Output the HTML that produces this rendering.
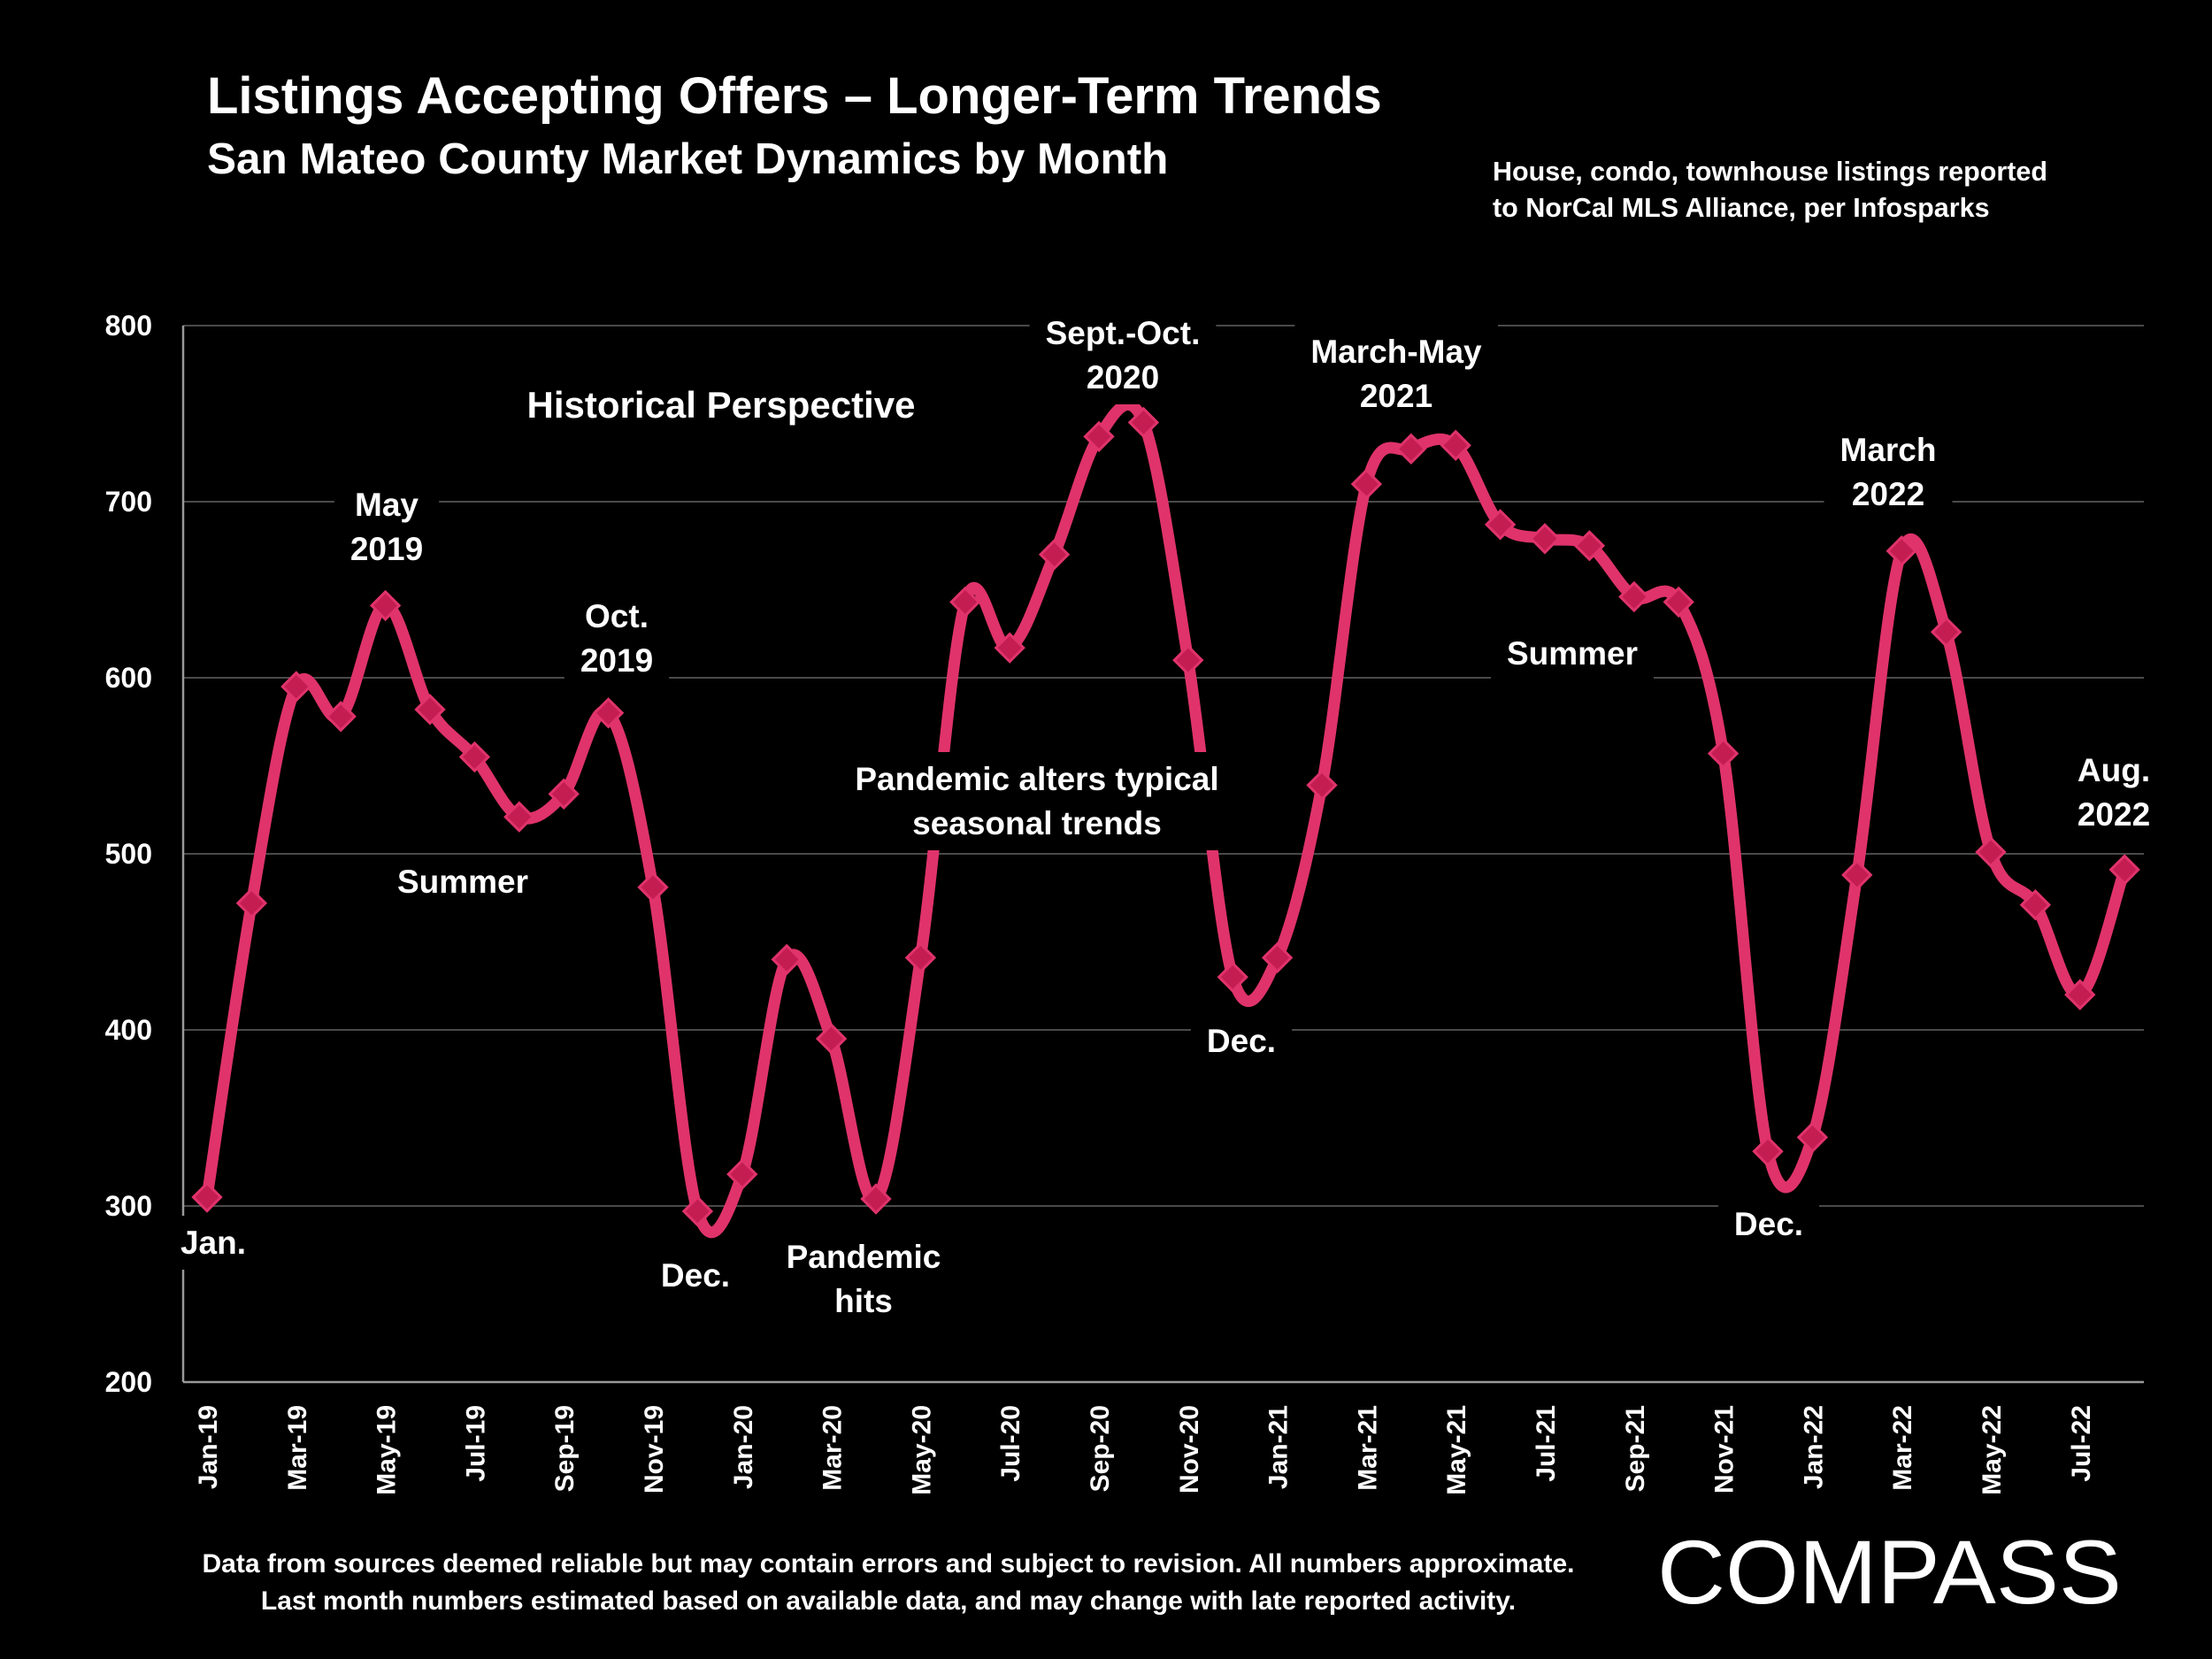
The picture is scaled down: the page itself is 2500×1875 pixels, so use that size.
<!DOCTYPE html>
<html><head><meta charset="utf-8">
<style>
html,body{margin:0;padding:0;background:#000;}
svg{display:block;font-family:"Liberation Sans",sans-serif;}
</style></head>
<body>
<svg id="chart" width="2500" height="1875" viewBox="0 0 2500 1875" xmlns="http://www.w3.org/2000/svg">
<rect width="2500" height="1875" fill="#000"/>
<text x="234" y="128" fill="#fff" font-size="58" font-weight="bold">Listings Accepting Offers – Longer-Term Trends</text>
<text x="234" y="196" fill="#fff" font-size="49.5" font-weight="bold">San Mateo County Market Dynamics by Month</text>
<text fill="#fff" font-size="30.5" font-weight="bold"><tspan x="1687" y="204">House, condo, townhouse listings reported</tspan><tspan x="1687" y="245">to NorCal MLS Alliance, per Infosparks</tspan></text>
<g id="grid"></g>
<g id="yticks"></g>
<g id="xticks"></g>
<g id="series"></g>
<g id="annots"></g>
<text fill="#fff" font-size="30" font-weight="bold" text-anchor="middle"><tspan x="1004" y="1777">Data from sources deemed reliable but may contain errors and subject to revision. All numbers approximate.</tspan><tspan x="1004" y="1819">Last month numbers estimated based on available data, and may change with late reported activity.</tspan></text>
<text x="1873" y="1812" fill="#fff" font-size="102" textLength="525" lengthAdjust="spacingAndGlyphs">COMPASS</text>
</svg>
<script>
const months = ["Jan-19","Feb-19","Mar-19","Apr-19","May-19","Jun-19","Jul-19","Aug-19","Sep-19","Oct-19","Nov-19","Dec-19",
"Jan-20","Feb-20","Mar-20","Apr-20","May-20","Jun-20","Jul-20","Aug-20","Sep-20","Oct-20","Nov-20","Dec-20",
"Jan-21","Feb-21","Mar-21","Apr-21","May-21","Jun-21","Jul-21","Aug-21","Sep-21","Oct-21","Nov-21","Dec-21",
"Jan-22","Feb-22","Mar-22","Apr-22","May-22","Jun-22","Jul-22","Aug-22"];
const values = [305,472,595,578,641,582,555,521,534,580,481,297,
318,440,395,304,441,643,617,670,737,745,610,430,
441,539,710,730,732,687,679,675,646,643,557,331,
339,488,672,626,501,471,420,491];
const yTicks = [200,300,400,500,600,700,800];
const annotations = [
 {lines:["Historical Perspective"], x:815, y:472, fs:42},
 {lines:["May","2019"], x:437, y:583},
 {lines:["Oct.","2019"], x:697, y:709},
 {lines:["Summer"], x:523, y:1009},
 {lines:["Jan."], x:241, y:1417},
 {lines:["Dec."], x:786, y:1454},
 {lines:["Pandemic","hits"], x:976, y:1433},
 {lines:["Pandemic alters typical","seasonal trends"], x:1172, y:893},
 {lines:["Sept.-Oct.","2020"], x:1269, y:389},
 {lines:["Dec."], x:1403, y:1189},
 {lines:["March-May","2021"], x:1578, y:410},
 {lines:["Summer"], x:1777, y:751},
 {lines:["Dec."], x:1999, y:1396},
 {lines:["March","2022"], x:2134, y:521},
 {lines:["Aug.","2022"], x:2389, y:883}
];
const NS="http://www.w3.org/2000/svg";
const X0=234, STEP=50.4, PL=207, PR=2423, YT=368, YB=1562, YMIN=200, YMAX=800;
const xs=i=>X0+i*STEP;
const ys=v=>YB-(v-YMIN)/(YMAX-YMIN)*(YB-YT);
function mk(tag,attrs,parent){const e=document.createElementNS(NS,tag);for(const k in attrs)e.setAttribute(k,attrs[k]);parent.appendChild(e);return e;}
const grid=document.getElementById('grid'), yt=document.getElementById('yticks'), xt=document.getElementById('xticks');
yTicks.forEach(v=>{
 const l=mk('line',{x1:PL,x2:PR,y1:ys(v),y2:ys(v),stroke:v===YMIN?'#999':'#4a4a4a','stroke-width':v===YMIN?2.5:2},grid);
 
 
 const t=mk('text',{x:172,y:ys(v)+11,fill:'#fff','font-size':32,'font-weight':'bold','text-anchor':'end'},yt);
 t.textContent=v;
 
 
});
const ax=mk('line',{x1:PL,x2:PL,y1:YT,y2:YB,stroke:'#999','stroke-width':2.5},grid);


months.forEach((m,i)=>{
 if(i%2) return;
 const t=mk('text',{x:0,y:0,fill:'#fff','font-size':30,'font-weight':'bold','text-anchor':'end',transform:`translate(${xs(i)+11},1588) rotate(-90)`},xt);
 t.textContent=m;
 
 
});
const pts=values.map((v,i)=>[xs(i),ys(v)]);
let d=`M${pts[0][0]},${pts[0][1]}`;
for(let i=0;i<pts.length-1;i++){
 const p0=pts[Math.max(0,i-1)],p1=pts[i],p2=pts[i+1],p3=pts[Math.min(pts.length-1,i+2)];
 const c1=[p1[0]+(p2[0]-p0[0])/6,p1[1]+(p2[1]-p0[1])/6];
 const c2=[p2[0]-(p3[0]-p1[0])/6,p2[1]-(p3[1]-p1[1])/6];
 d+=` C${c1[0]},${c1[1]} ${c2[0]},${c2[1]} ${p2[0]},${p2[1]}`;
}
const series=document.getElementById('series');
const path=mk('path',{d:d,fill:'none',stroke:'#e0336b','stroke-width':13,'stroke-linejoin':'round'},series);


pts.forEach((p,i)=>{
 const r=mk('rect',{x:p[0]-11,y:p[1]-11,width:22,height:22,fill:'#c41d52',stroke:'#e0336b','stroke-width':3,transform:`rotate(45 ${p[0]} ${p[1]})`},series);
 
 
});
const an=document.getElementById('annots');
annotations.forEach(a=>{
 const g=mk('g',{},an);
 
 
 const bg=mk('rect',{fill:'#000'},g);
 const t=mk('text',{fill:'#fff','font-size':a.fs||37,'font-weight':'bold','text-anchor':'middle'},g);
 a.lines.forEach((s,j)=>{const ts=mk('tspan',{x:a.x,y:a.y+j*50},t);ts.textContent=s;});
 const b=t.getBBox();
 bg.setAttribute('x',b.x-18);bg.setAttribute('y',b.y-10);
 bg.setAttribute('width',b.width+36);bg.setAttribute('height',b.height+20);
});
</script>
</body></html>
